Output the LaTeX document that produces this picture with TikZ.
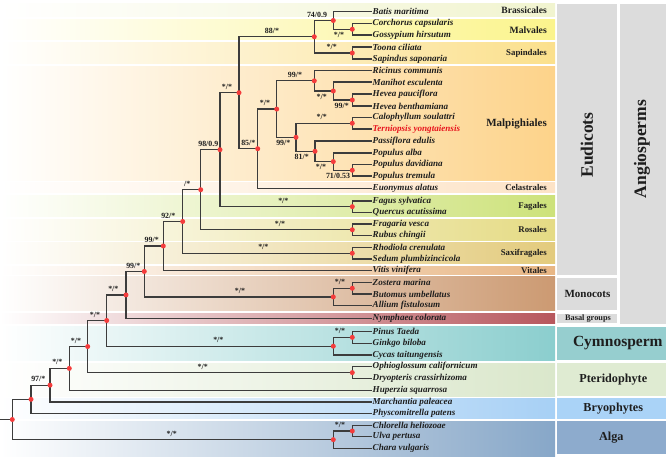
\documentclass[tikz,border=0pt]{standalone}
\usepackage{fontspec}
\setmainfont{Liberation Serif}
\definecolor{cBras}{HTML}{F1F4CF}
\definecolor{cMalv}{HTML}{FBF48C}
\definecolor{cSapi}{HTML}{FBE08C}
\definecolor{cMalp}{HTML}{FDD38A}
\definecolor{cCela}{HTML}{FDE3C6}
\definecolor{cFaga}{HTML}{CDE27A}
\definecolor{cRosa}{HTML}{E5DB84}
\definecolor{cSaxi}{HTML}{E3CB7D}
\definecolor{cVita}{HTML}{E8B684}
\definecolor{cMono}{HTML}{CC9A72}
\definecolor{cBasa}{HTML}{B7575D}
\definecolor{cGymn}{HTML}{8BCECE}
\definecolor{cPter}{HTML}{DAE7CB}
\definecolor{cBryo}{HTML}{A7D0F5}
\definecolor{cAlga}{HTML}{87A7C8}
\definecolor{bGymn}{HTML}{96CECF}
\definecolor{bPter}{HTML}{DFEBD2}
\definecolor{bBryo}{HTML}{AAD3F7}
\definecolor{bAlga}{HTML}{8DABCD}
\definecolor{gbox}{HTML}{DCDCDC}
\definecolor{brc}{HTML}{3C3C3C}
\definecolor{dotc}{HTML}{F43C3C}
\definecolor{redtxt}{HTML}{E8141E}
\definecolor{txt}{HTML}{1E1E1E}
\begin{document}
\begin{tikzpicture}[x=1pt,y=-1pt,
  tip/.style={anchor=west,inner sep=0.5pt,text=txt,font=\fontsize{9.1}{10}\selectfont\bfseries\itshape},
  sup/.style={inner sep=0pt,text=txt,font=\fontsize{7.9}{9}\selectfont\bfseries},
  bandlab/.style={anchor=east,inner sep=0pt,text=txt,font=\fontsize{8.8}{10}\selectfont\bfseries},
  boxlab/.style={inner sep=0pt,text=txt,font=\fontsize{12.2}{14}\selectfont\bfseries},
  br/.style={draw=brc,line width=1.25pt},
  dot/.style={fill=dotc}]
\useasboundingbox (0,0) rectangle (669,457);
% ---------- coloured bands ----------
\shade[left color=white,right color=cBras] (0,4) rectangle (555,17);
\shade[left color=white,right color=cMalv] (0,19.5) rectangle (555,40);
\shade[left color=white,right color=cSapi] (0,42.5) rectangle (555,64);
\shade[left color=white,right color=cMalp] (0,66.5) rectangle (555,180.5);
\shade[left color=white,right color=cCela] (0,182.5) rectangle (555,192.5);
\shade[left color=white,right color=cFaga] (0,195.5) rectangle (555,217);
\shade[left color=white,right color=cRosa] (0,219) rectangle (555,240);
\shade[left color=white,right color=cSaxi] (0,242.5) rectangle (555,263.5);
\shade[left color=white,right color=cVita] (0,266) rectangle (555,274.5);
\shade[left color=white,right color=cMono] (0,276.5) rectangle (555,310);
\shade[left color=white,right color=cBasa] (0,313.5) rectangle (555,323.5);
\shade[left color=white,right color=cGymn] (0,326.5) rectangle (555,360);
\shade[left color=white,right color=cPter] (0,363) rectangle (555,396.5);
\shade[left color=white,right color=cBryo] (0,398) rectangle (555,418.5);
\shade[left color=white,right color=cAlga] (0,421) rectangle (555,457);
% ---------- right panels ----------
\fill[gbox] (557,4) rectangle (617,275);
\fill[gbox] (557,277.5) rectangle (617,310);
\fill[gbox] (557,313.5) rectangle (617,323);
\fill[gbox] (620,4) rectangle (666,323.5);
\fill[bGymn] (557,327) rectangle (666,360);
\fill[bPter] (557,363) rectangle (666,395.5);
\fill[bBryo] (557,398) rectangle (666,418.5);
\fill[bAlga] (557,421) rectangle (666,454);
\node[rotate=90,inner sep=0pt,text=txt,font=\fontsize{17.5}{20}\selectfont\bfseries] (eud) at (587,145) {Eudicots};
\node[rotate=90,inner sep=0pt,text=txt,font=\fontsize{17.5}{20}\selectfont\bfseries] (ang) at (642,149) {Angiosperms};
\node[inner sep=0pt,text=txt,font=\fontsize{11}{13}\selectfont\bfseries] (mon) at (587.5,293.8) {Monocots};
\node[inner sep=0pt,text=txt,font=\fontsize{8.3}{10}\selectfont\bfseries] (bas) at (588,318.3) {Basal groups};
\node[inner sep=0pt,text=txt,font=\fontsize{15.5}{18}\selectfont\bfseries] (gym) at (617.8,343.5) {Cymnosperm};
\node[boxlab] (pte) at (613.3,379.2) {Pteridophyte};
\node[boxlab] (bry) at (613.3,408.2) {Bryophytes};
\node[boxlab] (alg) at (611.3,437.5) {Alga};
% ---------- band labels ----------
\node[bandlab,font=\fontsize{9.6}{11}\selectfont\bfseries] (lBras) at (547,10.6) {Brassicales};
\node[bandlab,font=\fontsize{9.7}{11}\selectfont\bfseries] (lMalv) at (547,29.8) {Malvales};
\node[bandlab] (lSapi) at (547,53.3) {Sapindales};
\node[bandlab,font=\fontsize{11}{13}\selectfont\bfseries] (lMalp) at (547,123.5) {Malpighiales};
\node[bandlab] (lCela) at (547,187.5) {Celastrales};
\node[bandlab] (lFaga) at (547,206.3) {Fagales};
\node[bandlab] (lRosa) at (547,229.6) {Rosales};
\node[bandlab] (lSaxi) at (547,253) {Saxifragales};
\node[bandlab] (lVita) at (547,270.4) {Vitales};
% ---------- tips ----------
\node[tip] (t1) at (372,11.7) {Batis maritima};
\node[tip] (t2) at (372,23.5) {Corchorus capsularis};
\node[tip] (t3) at (372,35) {Gossypium hirsutum};
\node[tip] (t4) at (372,47) {Toona ciliata};
\node[tip] (t5) at (372,59) {Sapindus saponaria};
\node[tip] (t6) at (372,70.7) {Ricinus communis};
\node[tip] (t7) at (372,82) {Manihot esculenta};
\node[tip] (t8) at (372,94) {Hevea pauciflora};
\node[tip] (t9) at (372,106) {Hevea benthamiana};
\node[tip] (t10) at (372,117.5) {Calophyllum soulattri};
\node[tip,text=redtxt] (t11) at (372,129) {Terniopsis yongtaiensis};
\node[tip] (t12) at (372,141) {Passiflora edulis};
\node[tip] (t13) at (372,153) {Populus alba};
\node[tip] (t14) at (372,164.5) {Populus davidiana};
\node[tip] (t15) at (372,176) {Populus tremula};
\node[tip] (t16) at (372,188.3) {Euonymus alatus};
\node[tip] (t17) at (372,201) {Fagus sylvatica};
\node[tip] (t18) at (372,212.3) {Quercus acutissima};
\node[tip] (t19) at (372,224) {Fragaria vesca};
\node[tip] (t20) at (372,235.5) {Rubus chingii};
\node[tip] (t21) at (372,247.5) {Rhodiola crenulata};
\node[tip] (t22) at (372,259) {Sedum plumbizincicola};
\node[tip] (t23) at (372,270.5) {Vitis vinifera};
\node[tip] (t24) at (372,282.5) {Zostera marina};
\node[tip] (t25) at (372,294) {Butomus umbellatus};
\node[tip] (t26) at (372,305.5) {Allium fistulosum};
\node[tip] (t27) at (372,318.3) {Nymphaea colorata};
\node[tip] (t28) at (372,331.5) {Pinus Taeda};
\node[tip] (t29) at (372,343.2) {Ginkgo biloba};
\node[tip] (t30) at (372,355) {Cycas taitungensis};
\node[tip] (t31) at (372,366.7) {Ophioglossum californicum};
\node[tip] (t32) at (372,378.5) {Dryopteris crassirhizoma};
\node[tip] (t33) at (372,390.2) {Huperzia squarrosa};
\node[tip] (t34) at (372,402) {Marchantia paleacea};
\node[tip] (t35) at (372,413.5) {Physcomitrella patens};
\node[tip] (t36) at (372,425.2) {Chlorella heliozoae};
\node[tip] (t37) at (372,436.8) {Ulva pertusa};
\node[tip] (t38) at (372,448.3) {Chara vulgaris};
% ---------- internal nodes ----------
\coordinate (CG) at (352.3,29.25);
\coordinate (BM) at (333.3,20.5);
\coordinate (TS) at (352.3,53);
\coordinate (A) at (314.3,36.75);
\coordinate (HH) at (352.3,100);
\coordinate (MH) at (333.3,91);
\coordinate (RMH) at (314.3,80.85);
\coordinate (CT) at (352.3,123.25);
\coordinate (PdPt) at (352.3,170.25);
\coordinate (Pop) at (333.3,161.6);
\coordinate (PP) at (315,151.3);
\coordinate (CTPP) at (296,137.3);
\coordinate (Malp) at (276.7,109.1);
\coordinate (C85) at (257.7,148.7);
\coordinate (B) at (239,92.7);
\coordinate (Fag) at (352.3,206.65);
\coordinate (C98) at (220,149.7);
\coordinate (Ros) at (352.3,229.75);
\coordinate (Cs) at (200.7,189.7);
\coordinate (Sax) at (352.3,253.25);
\coordinate (C92) at (182.7,221.5);
\coordinate (C99a) at (163.3,246);
\coordinate (ZB) at (352.3,288.25);
\coordinate (Mono) at (333.3,296.9);
\coordinate (C99b) at (144.3,271.45);
\coordinate (N) at (126,294.9);
\coordinate (PG) at (352.3,337.35);
\coordinate (Gym) at (333.3,346.2);
\coordinate (G) at (106.7,320.5);
\coordinate (OD) at (352.3,372.6);
\coordinate (P) at (87.7,346.55);
\coordinate (H) at (69.3,368.4);
\coordinate (M97) at (50,385.2);
\coordinate (Ph) at (31,399.35);
\coordinate (CU) at (352.3,431);
\coordinate (Alg) at (333.3,439.65);
\coordinate (Root) at (12.3,419.5);
\coordinate (stem) at (0,419.5);
% ---------- branches ----------
\foreach \p/\c in {CG/t2,CG/t3,BM/t1,TS/t4,TS/t5,HH/t8,HH/t9,MH/t7,RMH/t6,CT/t10,CT/t11,PdPt/t14,PdPt/t15,Pop/t13,PP/t12,C85/t16,Fag/t17,Fag/t18,Ros/t19,Ros/t20,Sax/t21,Sax/t22,C99a/t23,ZB/t24,ZB/t25,Mono/t26,N/t27,PG/t28,PG/t29,Gym/t30,OD/t31,OD/t32,H/t33,M97/t34,Ph/t35,CU/t36,CU/t37,Alg/t38}
  \draw[br] (\p) |- (\c.west);
\foreach \p/\c in {BM/CG,A/BM,A/TS,MH/HH,RMH/MH,Pop/PdPt,PP/Pop,CTPP/CT,CTPP/PP,Malp/RMH,Malp/CTPP,C85/Malp,B/A,B/C85,C98/B,C98/Fag,Cs/C98,Cs/Ros,C92/Cs,C92/Sax,C99a/C92,Mono/ZB,C99b/C99a,C99b/Mono,N/C99b,Gym/PG,G/N,G/Gym,P/G,P/OD,H/P,M97/H,Ph/M97,Alg/CU,Root/Ph,Root/Alg}
  \draw[br] (\p) |- (\c);
\draw[br] (stem) -- (Root);
\foreach \n in {CG,BM,TS,A,HH,MH,RMH,CT,PdPt,Pop,PP,CTPP,Malp,C85,B,Fag,C98,Ros,Cs,Sax,C92,C99a,ZB,Mono,C99b,N,PG,Gym,G,OD,P,H,M97,Ph,CU,Alg,Root}
  \fill[dot] (\n) circle (2.5pt);
% ---------- support values ----------
\node[sup] (sBM) at (317,14.5) {74/0.9};
\node[sup] (sCG) at (339,34.75) {*/*};
\node[sup] (sA) at (272,30.75) {88/*};
\node[sup] (sTS) at (331.7,47) {*/*};
\node[sup] (sB) at (227,86.7) {*/*};
\node[sup] (sRMH) at (295,74.85) {99/*};
\node[sup] (sMH) at (321.7,96.5) {*/*};
\node[sup] (sHH) at (341.7,105.5) {99/*};
\node[sup] (sMalp) at (265,103.1) {*/*};
\node[sup] (sCT) at (321.7,117.25) {*/*};
\node[sup] (sCTPP) at (283.3,142.8) {99/*};
\node[sup] (sPP) at (301.7,156.8) {81/*};
\node[sup] (sPop) at (321,167.1) {*/*};
\node[sup] (sPdPt) at (338,175.75) {71/0.53};
\node[sup] (sC85) at (248.3,142.7) {85/*};
\node[sup] (sC98) at (208.3,143.7) {98/0.9};
\node[sup] (sCs) at (187.3,183.7) {/*};
\node[sup] (sFag) at (283.3,200.65) {*/*};
\node[sup] (sRos) at (280,223.75) {*/*};
\node[sup] (sC92) at (168.3,215.5) {92/*};
\node[sup] (sSax) at (263.3,247.25) {*/*};
\node[sup] (sC99a) at (151.7,240) {99/*};
\node[sup] (sC99b) at (133.3,265.45) {99/*};
\node[sup] (sMono) at (240,290.9) {*/*};
\node[sup] (sZB) at (340,282.25) {*/*};
\node[sup] (sN) at (113.3,288.9) {*/*};
\node[sup] (sG) at (95,314.5) {*/*};
\node[sup] (sGym) at (218.3,340.2) {*/*};
\node[sup] (sPG) at (340,331.35) {*/*};
\node[sup] (sP) at (76,340.55) {*/*};
\node[sup] (sOD) at (202.7,366.6) {*/*};
\node[sup] (sH) at (57.3,362.4) {*/*};
\node[sup] (sM97) at (38.3,379.2) {97/*};
\node[sup] (sAlg) at (171.7,433.65) {*/*};
\node[sup] (sCU) at (340,425) {*/*};
\end{tikzpicture}
\end{document}
